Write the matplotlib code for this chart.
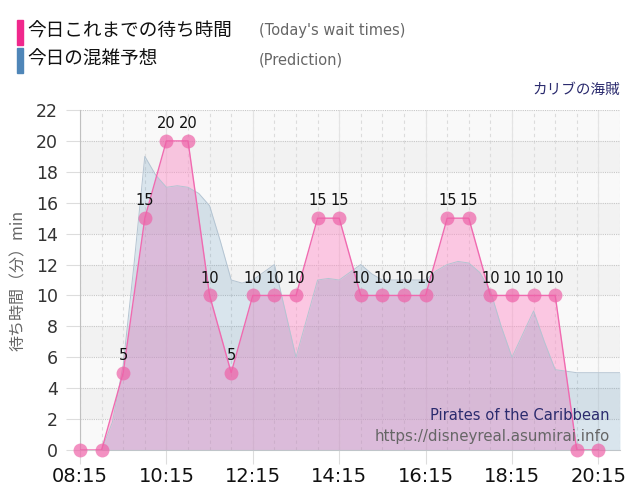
import matplotlib
matplotlib.use("Agg")
import matplotlib.pyplot as plt
from matplotlib.patches import Rectangle
import numpy as np

JP = ['Noto Sans CJK JP', 'DejaVu Sans']
plt.rcParams['font.family'] = ['DejaVu Sans', 'Noto Sans CJK JP']

# ---- data ----
actual_times = ["08:15", "08:45", "09:15", "09:45", "10:15", "10:45", "11:15", "11:45",
                "12:15", "12:45", "13:15", "13:45", "14:15", "14:45", "15:15", "15:45",
                "16:15", "16:45", "17:15", "17:45", "18:15", "18:45", "19:15", "19:45", "20:15"]
actual_wait = [0, 0, 5, 15, 20, 20, 10, 5, 10, 10, 10, 15, 15, 10, 10, 10,
               10, 15, 15, 10, 10, 10, 10, 0, 0]

pred_times = ["08:45", "09:00", "09:15", "09:30", "09:45", "10:00", "10:15", "10:30", "10:45",
              "11:00", "11:15", "11:30", "11:45", "12:00", "12:15", "12:30", "12:45", "13:00",
              "13:15", "13:30", "13:45", "14:00", "14:15", "14:30", "14:45", "15:00", "15:15",
              "15:30", "15:45", "16:00", "16:15", "16:30", "16:45", "17:00", "17:15", "17:30",
              "17:45", "18:00", "18:15", "18:30", "18:45", "19:00", "19:15", "19:30", "19:45",
              "20:00", "20:15", "20:30", "20:45"]
pred_wait = [0, 1.8, 5.5, 12, 19, 17.8, 17, 17.1, 17, 16.6, 15.8, 13.5, 11, 10.8, 11, 11.5,
             12, 9, 6, 8.5, 11, 11.1, 11, 11.5, 12, 11.4, 11, 11, 11, 11, 11, 11.6, 12, 12.2,
             12.1, 11.5, 10.3, 8, 6, 7.5, 9, 7, 5.2, 5.1, 5, 5, 5, 5, 5]

xtick_labels = ["08:15", "10:15", "12:15", "14:15", "16:15", "18:15", "20:15"]
ytick_values = list(range(0, 23, 2))


def to_min(t):
    h, m = t.split(":")
    return int(h) * 60 + int(m)


ax_x = np.array([to_min(t) for t in actual_times])
pr_x = np.array([to_min(t) for t in pred_times])
x0, x1 = to_min("08:15"), to_min("20:45")

fig = plt.figure(figsize=(6.4, 5.0), dpi=100)
ax = fig.add_axes([80 / 640, 50 / 500, 540 / 640, 340 / 500])
ax.set_xlim(x0, x1)
ax.set_ylim(0, 22)

# background bands
for y in range(0, 22, 2):
    c = '#f9f9f9' if (y // 2) % 2 == 0 else '#f2f2f2'
    ax.axhspan(y, y + 2, color=c, zorder=0, lw=0)

# grid
for xm in range(x0, x1 + 1, 30):
    ax.axvline(xm, color='#dcdcdc', lw=0.8, ls=(0, (3, 3)), zorder=1)
for xm in [to_min(t) for t in xtick_labels]:
    ax.axvline(xm, color='#e4e4e4', lw=0.8, zorder=1)
for yv in ytick_values[1:]:
    ax.axhline(yv, color='#c8c8c8', lw=0.8, ls=(0, (1, 1)), zorder=1)

# actual series
ax.fill_between(ax_x, actual_wait, 0, color='#ff8cc6', alpha=0.45, lw=0, zorder=2)
ax.plot(ax_x, actual_wait, color='#f06ab0', lw=1.0, zorder=4)

# prediction series
ax.fill_between(pr_x, pred_wait, 0, color='#3e85b4', alpha=0.17, lw=0, zorder=3)
ax.plot(pr_x, pred_wait, color='#b4c4d2', lw=0.7, zorder=3)

# markers
ax.plot(ax_x, actual_wait, 'o', ms=10, color='#ee62a8', alpha=0.7, mec='none',
        zorder=5, clip_on=False)

# data labels
for x, v in zip(ax_x, actual_wait):
    if v > 0:
        ax.annotate(str(v), (x, v), xytext=(0, 7), textcoords='offset points',
                    ha='center', va='bottom', fontsize=10.5, color='#111111', zorder=6)

# axes styling
for s in ['top', 'right']:
    ax.spines[s].set_visible(False)
ax.spines['left'].set_color('#c0c0c0')
ax.spines['bottom'].set_color('#cccccc')
ax.set_xticks([to_min(t) for t in xtick_labels])
ax.set_xticklabels(xtick_labels, fontsize=14, color='#111111')
ax.set_yticks(ytick_values)
ax.set_yticklabels([str(v) for v in ytick_values], fontsize=12.5, color='#333333')
ax.tick_params(axis='x', length=10, color='#dddddd', pad=2)
ax.tick_params(axis='y', length=10, color='#dddddd', pad=6)
ax.set_ylabel('待ち時間（分）min', fontsize=11.5, color='#666666', family=JP, labelpad=6)

# watermark texts
fig.text(610 / 640, 1 - 415 / 500, 'Pirates of the Caribbean', ha='right', va='center',
         fontsize=10.6, color='#2b2b6e', zorder=7)
fig.text(610 / 640, 1 - 436 / 500, 'https://disneyreal.asumirai.info', ha='right', va='center',
         fontsize=10.8, color='#666666', zorder=7)

# header legend
fig.patches.append(Rectangle((17 / 640, 1 - 45 / 500), 6 / 640, 25 / 500,
                             transform=fig.transFigure, color='#f0288c', figure=fig))
fig.patches.append(Rectangle((17 / 640, 1 - 73 / 500), 6 / 640, 25 / 500,
                             transform=fig.transFigure, color='#4f86b8', figure=fig))
fig.text(27 / 640, 1 - 32 / 500, '今日これまでの待ち時間', ha='left', va='center',
         fontsize=13.4, color='#111111', family=JP)
fig.text(27 / 640, 1 - 60 / 500, '今日の混雑予想', ha='left', va='center',
         fontsize=13.4, color='#111111', family=JP)
fig.text(259 / 640, 1 - 31 / 500, "(Today's wait times)", ha='left', va='center',
         fontsize=10.5, color='#666666')
fig.text(259 / 640, 1 - 60 / 500, "(Prediction)", ha='left', va='center',
         fontsize=10.5, color='#666666')
fig.text(620 / 640, 1 - 90 / 500, 'カリブの海賊', ha='right', va='center',
         fontsize=10.5, color='#2b2b6e', family=JP)

fig.savefig('out.png', dpi=100)
